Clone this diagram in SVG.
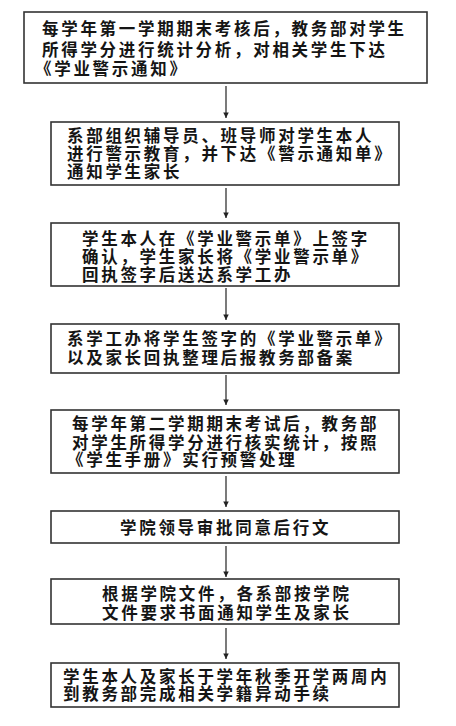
<svg xmlns="http://www.w3.org/2000/svg" width="456" height="726" viewBox="0 0 456 726">
<style>
.box{fill:#fff;stroke:#333;stroke-width:1.6}
.t{font-family:"Noto Sans CJK SC","Noto Sans",sans-serif;font-size:16.5px;font-weight:700;letter-spacing:2.7px;fill:#151515}
.c{stroke:#222;stroke-width:1.2;fill:none;marker-end:url(#ah)}
</style>
<defs>
<marker id="ah" viewBox="0 0 7 9" refX="7" refY="3.5" markerWidth="9" markerHeight="7" markerUnits="userSpaceOnUse" orient="auto">
<path d="M0,0 L7,3.5 L0,7 z" fill="#222"/>
</marker>
</defs>
<rect width="456" height="726" fill="#fff"/>
<g id="connectors">
<line class="c" x1="226" y1="86" x2="226" y2="118"/>
<line class="c" x1="226" y1="188" x2="226" y2="218"/>
<line class="c" x1="226" y1="288" x2="226" y2="320"/>
<line class="c" x1="226" y1="375" x2="226" y2="405"/>
<line class="c" x1="226" y1="476" x2="226" y2="507"/>
<line class="c" x1="226" y1="546" x2="226" y2="577"/>
<line class="c" x1="226" y1="628" x2="226" y2="659"/>
</g>
<g id="n1">
<rect class="box" x="24" y="12" width="403" height="71"/>
<text class="t" x="42" y="35">每学年第一学期期末考核后，教务部对学生</text>
<text class="t" x="42" y="56">所得学分进行统计分析，对相关学生下达</text>
<text class="t" x="35" y="75">《学业警示通知》</text>
</g>
<g id="n2">
<rect class="box" x="51" y="122" width="348" height="63"/>
<text class="t" x="67" y="142">系部组织辅导员、班导师对学生本人</text>
<text class="t" x="67" y="160">进行警示教育，并下达《警示通知单》</text>
<text class="t" x="67" y="178">通知学生家长</text>
</g>
<g id="n3">
<rect class="box" x="51" y="223" width="348" height="63"/>
<text class="t" x="82" y="245">学生本人在《学业警示单》上签字</text>
<text class="t" x="82" y="263">确认，学生家长将《学业警示单》</text>
<text class="t" x="82" y="281">回执签字后送达系学工办</text>
</g>
<g id="n4">
<rect class="box" x="51" y="324" width="348" height="49"/>
<text class="t" x="67" y="345">系学工办将学生签字的《学业警示单》</text>
<text class="t" x="67" y="364">以及家长回执整理后报教务部备案</text>
</g>
<g id="n5">
<rect class="box" x="51" y="410" width="348" height="63"/>
<text class="t" x="72" y="430">每学年第二学期期末考试后，教务部</text>
<text class="t" x="72" y="449">对学生所得学分进行核实统计，按照</text>
<text class="t" x="67" y="466">《学生手册》实行预警处理</text>
</g>
<g id="n6">
<rect class="box" x="51" y="511" width="348" height="32"/>
<text class="t" x="120" y="534">学院领导审批同意后行文</text>
</g>
<g id="n7">
<rect class="box" x="51" y="579" width="348" height="45"/>
<text class="t" x="102" y="600">根据学院文件，各系部按学院</text>
<text class="t" x="102" y="619">文件要求书面通知学生及家长</text>
</g>
<g id="n8">
<rect class="box" x="51" y="663" width="348" height="44"/>
<text class="t" x="63" y="683">学生本人及家长于学年秋季开学两周内</text>
<text class="t" x="63" y="700">到教务部完成相关学籍异动手续</text>
</g>
</svg>
